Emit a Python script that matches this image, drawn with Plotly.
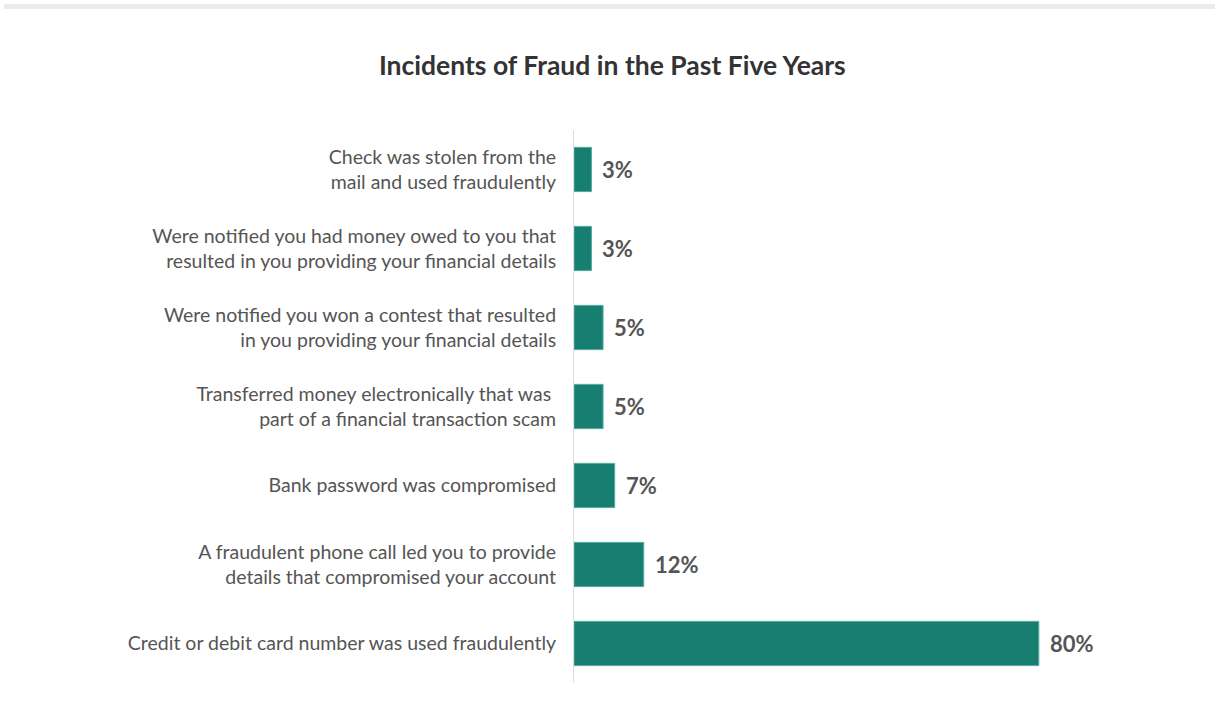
import plotly.graph_objects as go

# Survey results: share of respondents reporting each type of fraud
categories = [
    "Check was stolen from the<br>mail and used fraudulently",
    "Were notified you had money owed to you that<br>resulted in you providing your financial details",
    "Were notified you won a contest that resulted<br>in you providing your financial details",
    "Transferred money electronically that was <br>part of a financial transaction scam",
    "Bank password was compromised",
    "A fraudulent phone call led you to provide<br>details that compromised your account",
    "Credit or debit card number was used fraudulently",
]
values = [3, 3, 5, 5, 7, 12, 80]
value_labels = [f"{v}%" for v in values]

W, H = 1215, 719
M_L, M_R, M_T, M_B = 574, 60, 130, 36

fig = go.Figure(
    go.Bar(
        x=values,
        y=categories,
        orientation="h",
        marker=dict(color="#177f71", line=dict(color="#55a99c", width=1)),
        hoverinfo="skip",
    )
)

# value labels just past the end of each bar
for cat, val, lab in zip(categories, values, value_labels):
    fig.add_annotation(
        x=val,
        y=cat,
        text=f"<b>{lab}</b>",
        xanchor="left",
        yanchor="middle",
        xshift=9,
        showarrow=False,
        font=dict(family="Lato", size=22, color="#555555"),
    )

plot_h = H - M_T - M_B
plot_w = W - M_L - M_R

fig.update_layout(
    width=W,
    height=H,
    margin=dict(l=M_L, r=M_R, t=M_T, b=M_B),
    paper_bgcolor="white",
    plot_bgcolor="white",
    bargap=0.44,
    showlegend=False,
    title=dict(
        text="<b>Incidents of Fraud in the Past Five Years</b>",
        x=0.504,
        xanchor="center",
        y=1 - 66 / H,
        yanchor="middle",
        font=dict(family="Lato", size=26.5, color="#333333"),
    ),
    xaxis=dict(
        range=[0, 100],
        visible=False,
        showgrid=False,
        zeroline=False,
    ),
    yaxis=dict(
        autorange="reversed",
        showgrid=False,
        zeroline=False,
        showline=True,
        linecolor="#dddddd",
        linewidth=1,
        ticks="",
        ticklabelstandoff=13,
        tickfont=dict(family="Lato", size=19.5, color="#555555"),
    ),
    shapes=[
        # thin grey band across the top of the page
        dict(
            type="rect",
            xref="paper",
            yref="paper",
            x0=-(M_L - 4) / plot_w,
            x1=(W - M_L) / plot_w,
            y0=(plot_h + M_T - 9) / plot_h,
            y1=(plot_h + M_T - 4) / plot_h,
            fillcolor="#ebebeb",
            line=dict(width=0),
            layer="below",
        )
    ],
)

fig.write_html("out.html")
